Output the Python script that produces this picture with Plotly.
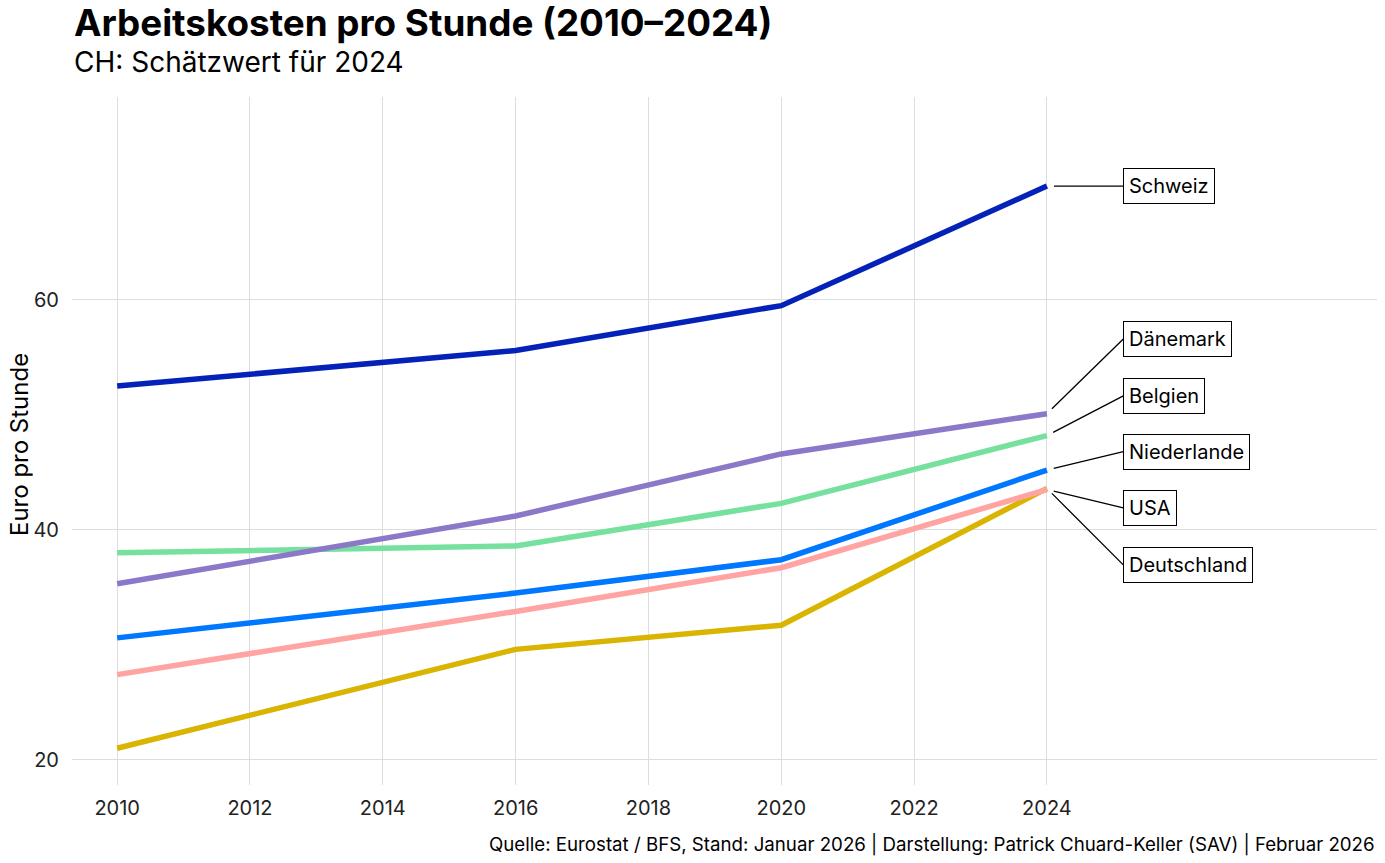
import plotly.graph_objects as go

years = [2010, 2016, 2020, 2024]
countries = ["Schweiz", "Dänemark", "Belgien", "Niederlande", "USA", "Deutschland"]
values = {
    "Schweiz":     [52.5, 55.6, 59.5, 69.9],
    "Dänemark":    [35.3, 41.2, 46.6, 50.1],
    "Belgien":     [38.0, 38.6, 42.3, 48.2],
    "Niederlande": [30.6, 34.5, 37.4, 45.2],
    "USA":         [27.4, 32.9, 36.7, 43.5],
    "Deutschland": [21.0, 29.6, 31.7, 43.6],
}
colors = {
    "Schweiz": "#0522B8",
    "Dänemark": "#8C78C8",
    "Belgien": "#76E09F",
    "Niederlande": "#0077FF",
    "USA": "#FFA3A3",
    "Deutschland": "#D9B400",
}
# label box positions (y, data units) on the right
label_y = {
    "Schweiz": 69.9,
    "Dänemark": 56.6,
    "Belgien": 51.65,
    "Niederlande": 46.8,
    "USA": 41.9,
    "Deutschland": 36.95,
}
label_x = 2025.15

x_ticks = list(range(2010, 2025, 2))
y_ticks = [20, 40, 60]

FONT = "Inter"

fig = go.Figure()
draw_order = ["Deutschland", "USA", "Niederlande", "Belgien", "Dänemark", "Schweiz"]
for c in draw_order:
    fig.add_trace(go.Scatter(
        x=years, y=values[c], mode="lines", name=c,
        line=dict(color=colors[c], width=5.5),
        showlegend=False,
    ))

for c in countries:
    fig.add_annotation(
        x=years[-1], y=values[c][-1], xref="x", yref="y",
        ax=label_x, ay=label_y[c], axref="x", ayref="y",
        text=c, showarrow=True, arrowhead=0, arrowwidth=1.3, arrowcolor="black",
        standoff=7, xanchor="left", yanchor="middle",
        bordercolor="black", borderwidth=1, borderpad=5, bgcolor="white",
        font=dict(family=FONT, size=20, color="black"),
    )

fig.update_layout(
    width=1385, height=863,
    margin=dict(l=72, r=8, t=97, b=78, autoexpand=False),
    plot_bgcolor="white", paper_bgcolor="white",
    font=dict(family=FONT, color="black"),
    xaxis=dict(
        range=[2009.32, 2028.97], tickvals=x_ticks, ticktext=[str(v) for v in x_ticks],
        showgrid=True, gridcolor="#DDDDDD", gridwidth=1.4, zeroline=False,
        showline=False, ticks="", ticklabelstandoff=9, automargin=False,
        tickfont=dict(family=FONT, size=20, color="#222222"),
    ),
    yaxis=dict(
        range=[17.8, 77.65], tickvals=y_ticks,
        showgrid=True, gridcolor="#DDDDDD", gridwidth=1.4, zeroline=False,
        showline=False, ticks="", ticklabelstandoff=12, automargin=False,
        tickfont=dict(family=FONT, size=20, color="#222222"),
    ),
)

# title, subtitle
fig.add_annotation(
    text="<b>Arbeitskosten pro Stunde (2010–2024)</b>",
    xref="paper", yref="paper", x=0.0, y=1.1083, xanchor="left", yanchor="middle",
    showarrow=False, font=dict(family=FONT, size=36.8, color="black"),
)
fig.add_annotation(
    text="CH: Schätzwert für 2024",
    xref="paper", yref="paper", x=0.0, y=1.0515, xanchor="left", yanchor="middle",
    showarrow=False, font=dict(family=FONT, size=28, color="black"),
)
# y-axis title
fig.add_annotation(
    text="Euro pro Stunde", textangle=-90,
    xref="paper", yref="paper", x=-0.0406, y=(785 - 445) / 688, xanchor="center", yanchor="middle",
    showarrow=False, font=dict(family=FONT, size=24, color="black"),
)
# caption
fig.add_annotation(
    text="Quelle: Eurostat / BFS, Stand: Januar 2026 | Darstellung: Patrick Chuard-Keller (SAV) | Februar 2026",
    xref="paper", yref="paper", x=1.0, y=-0.087, xanchor="right", yanchor="middle",
    showarrow=False, font=dict(family=FONT, size=18.7, color="black"),
)

# remove the default 8px page margin so the figure fills the window exactly
fig.write_html(
    "out.html",
    config={"displayModeBar": False},
    post_script="document.body.style.margin='0px';",
)
